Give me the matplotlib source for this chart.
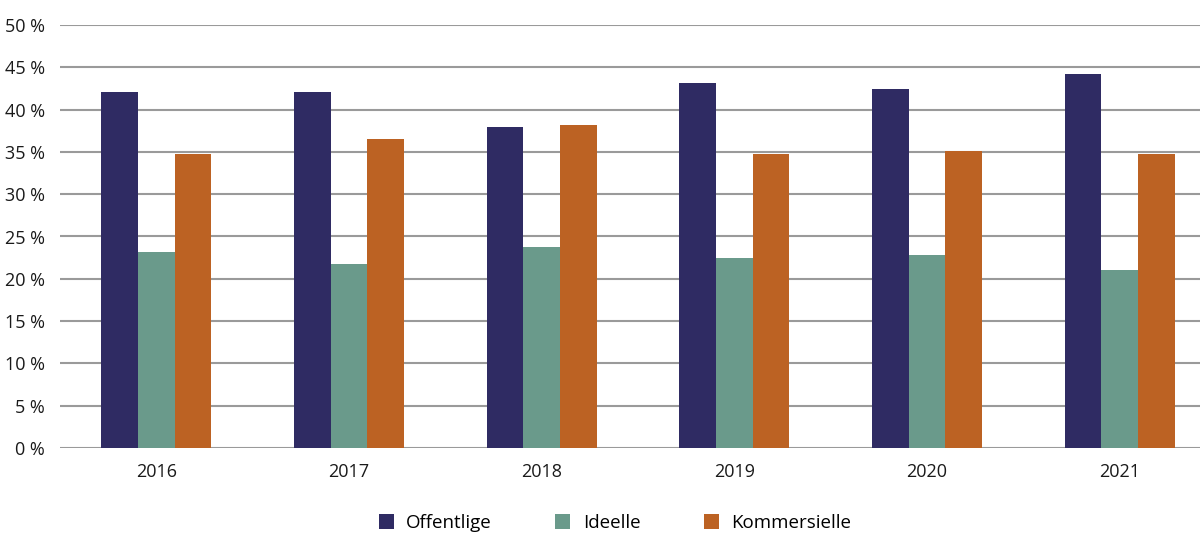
import numpy as np
import matplotlib.pyplot as plt

years = ["2016", "2017", "2018", "2019", "2020", "2021"]
offentlige = [42.1, 42.1, 37.9, 43.1, 42.4, 44.2]
ideelle = [23.2, 21.7, 23.8, 22.4, 22.8, 21.0]
kommersielle = [34.8, 36.5, 38.2, 34.7, 35.1, 34.8]

series = [
    ("Offentlige", offentlige, "#2f2b63"),
    ("Ideelle", ideelle, "#6a9a8b"),
    ("Kommersielle", kommersielle, "#bc6223"),
]

plt.rcParams['font.family'] = ['Open Sans', 'DejaVu Sans']

fig = plt.figure(figsize=(12, 5.53), dpi=100)
# axis runs a bit past the right edge of the image, like the original
ax = fig.add_axes([60 / 1200, 105 / 553, 1156 / 1200, 423 / 553])

x = np.arange(len(years))
width = 0.19
for i, (name, vals, color) in enumerate(series):
    ax.bar(x + (i - 1) * width, vals, width, color=color, label=name, zorder=3)

ax.set_xlim(-0.5, len(years) - 0.5)
ax.set_ylim(0, 50)
ax.set_yticks(np.arange(0, 51, 5))
ax.set_yticklabels([f"{v} %" for v in range(0, 51, 5)])
ax.set_xticks(x)
ax.set_xticklabels(years)

ax.grid(axis='y', color='#9a9a9a', linewidth=1.5, zorder=0)
for s in ax.spines.values():
    s.set_visible(False)
ax.tick_params(axis='both', length=0, labelsize=13, colors='#1a1a1a')
ax.tick_params(axis='y', pad=11)
ax.tick_params(axis='x', pad=11)

fig.legend(loc='center', bbox_to_anchor=(615 / 1200, 1 - 523 / 553), ncol=3,
           frameon=False, fontsize=13.5, handlelength=0.8, handleheight=0.8,
           handletextpad=0.65, columnspacing=3.4)

fig.savefig("out.png", dpi=100)
